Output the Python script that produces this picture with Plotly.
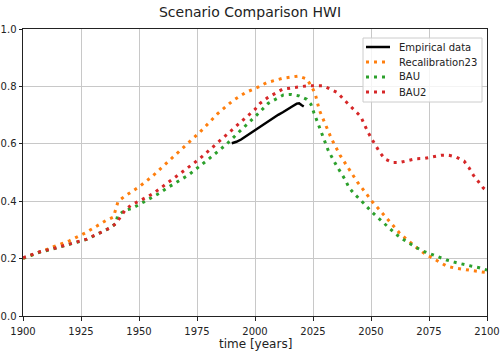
import plotly.graph_objects as go

# ---------------- data ----------------
emp_years = [1990, 1992, 1994, 1996, 1998, 2000, 2002, 2004, 2006, 2008, 2010,
             2012, 2014, 2016, 2018, 2019, 2020, 2021]
emp_vals = [0.602, 0.607, 0.615, 0.626, 0.636, 0.646, 0.656, 0.668, 0.680, 0.691,
            0.701, 0.710, 0.719, 0.730, 0.740, 0.741, 0.735, 0.730]

recal_years = [1900, 1907, 1914, 1920, 1927, 1933, 1936, 1939, 1940, 1941, 1944, 1950,
               1955.5, 1960.8, 1968.7, 1976.3, 1983.8, 1990.4, 1996, 2001.5, 2005,
               2011.8, 2018.7, 2022.3, 2024.4, 2025.9, 2027.7, 2030.2, 2033, 2036.6,
               2040.2, 2042.1, 2044.1, 2046.3, 2048.4, 2050.6, 2052.9, 2055.3, 2057.5,
               2060, 2062.2, 2065, 2067.6, 2070.4, 2073.3, 2076.2, 2079.5, 2082.6,
               2086.2, 2089.8, 2093.4, 2096.7, 2100]
recal_vals = [0.201, 0.222, 0.244, 0.262, 0.290, 0.319, 0.334, 0.345, 0.370, 0.400,
              0.418, 0.450, 0.485, 0.524, 0.582, 0.641, 0.704, 0.750, 0.779, 0.798,
              0.813, 0.828, 0.836, 0.826, 0.799, 0.776, 0.718, 0.671, 0.617, 0.561,
              0.516, 0.490, 0.467, 0.444, 0.420, 0.398, 0.377, 0.354, 0.334, 0.311,
              0.290, 0.270, 0.251, 0.233, 0.216, 0.203, 0.187, 0.174, 0.167, 0.163,
              0.160, 0.156, 0.151]

bau_years = [1900, 1907, 1914, 1921, 1927.5, 1934, 1937.5, 1940, 1940.8, 1944, 1947,
             1950, 1959.3, 1961.9, 1971.3, 1979.9, 1987.8, 1993.1, 1998.1, 2000.7,
             2005.7, 2012.2, 2015.5, 2019, 2022.3, 2024.1, 2025.4, 2026.6, 2029,
             2031.6, 2035.2, 2038.8, 2040.5, 2042.7, 2045.3, 2047.7, 2050.3, 2052.7,
             2055.3, 2057.9, 2060.6, 2063.5, 2066.5, 2069.4, 2072.5, 2075.9, 2079.3,
             2082.6, 2086.2, 2089.5, 2093.1, 2096.7, 2100]
bau_vals = [0.201, 0.222, 0.236, 0.251, 0.267, 0.293, 0.307, 0.322, 0.350, 0.369,
            0.375, 0.388, 0.430, 0.445, 0.491, 0.546, 0.599, 0.641, 0.679, 0.700,
            0.741, 0.770, 0.772, 0.767, 0.755, 0.738, 0.708, 0.681, 0.627, 0.576,
            0.523, 0.476, 0.448, 0.426, 0.406, 0.384, 0.363, 0.345, 0.325, 0.304,
            0.286, 0.269, 0.253, 0.239, 0.226, 0.215, 0.204, 0.195, 0.187, 0.180,
            0.174, 0.168, 0.160]

bau2_years = [1900, 1907, 1914, 1921, 1927.5, 1934, 1937.5, 1940.2, 1942.2, 1944,
              1946.8, 1950, 1956.2, 1959.3, 1967.7, 1976.3, 1984.2, 1992.1, 1997.5,
              2000, 2002.2, 2005.5, 2011.8, 2018.4, 2022.3, 2029.4, 2032.3, 2035.6,
              2038.1, 2040.5, 2043.1, 2045.6, 2047, 2048.6, 2050.3, 2052, 2053.9, 2056,
              2059.2, 2062.5, 2066.1, 2069.4, 2073, 2076.4, 2080.2, 2083.6, 2086.9,
              2090.1, 2092.2, 2094.1, 2096.3, 2098.4, 2100]
bau2_vals = [0.203, 0.223, 0.237, 0.252, 0.268, 0.293, 0.307, 0.323, 0.345, 0.369,
             0.388, 0.400, 0.427, 0.445, 0.496, 0.549, 0.607, 0.662, 0.703, 0.720,
             0.741, 0.761, 0.790, 0.799, 0.802, 0.802, 0.791, 0.778, 0.756, 0.735,
             0.715, 0.695, 0.669, 0.642, 0.617, 0.593, 0.569, 0.547, 0.535, 0.535,
             0.541, 0.548, 0.549, 0.553, 0.560, 0.560, 0.553, 0.540, 0.517, 0.491,
             0.469, 0.446, 0.435]

series_names = ["Empirical data", "Recalibration23", "BAU", "BAU2"]
series_colors = ["black", "#ff7f0e", "#2ca02c", "#d62728"]

x_ticks = [1900, 1925, 1950, 1975, 2000, 2025, 2050, 2075, 2100]
y_ticks = [0.0, 0.2, 0.4, 0.6, 0.8, 1.0]

# ---------------- figure ----------------
FONT = "DejaVu Sans"
DOT = "3px,5px"
W, H = 500, 351
ML, MR, MT, MB = 23, 13, 29, 35
PW, PH = W - ML - MR, H - MT - MB


def px_x(p):
    return (p - ML) / PW


def px_y(p):
    return (H - MB - p) / PH


fig = go.Figure()
all_x = [emp_years, recal_years, bau_years, bau2_years]
all_y = [emp_vals, recal_vals, bau_vals, bau2_vals]
for i, (xs, ys) in enumerate(zip(all_x, all_y)):
    if i == 0:
        line = dict(color=series_colors[i], width=2.5)
    else:
        line = dict(color=series_colors[i], width=3, dash=DOT)
    fig.add_trace(go.Scatter(x=xs, y=ys, mode="lines", name=series_names[i],
                             line=line, showlegend=False))

axis_common = dict(showline=True, linecolor="#222", linewidth=1, mirror=True,
                   ticks="outside", ticklen=3.5, tickwidth=1, tickcolor="#222",
                   showgrid=True, gridcolor="#c8c8c8", gridwidth=1, zeroline=False,
                   automargin=False,
                   tickfont=dict(family=FONT, size=10, color="#222"))

# manual legend (matplotlib style)
shapes = [dict(type="rect", xref="paper", yref="paper", layer="above",
               x0=px_x(363), x1=px_x(482), y0=px_y(102), y1=px_y(38),
               fillcolor="rgba(255,255,255,0.8)", line=dict(color="#cccccc", width=1))]
annotations = []
for i, name in enumerate(series_names):
    yy = px_y(47 + 15 * i)
    ln = dict(color=series_colors[i], width=2.5 if i == 0 else 3)
    if i > 0:
        ln["dash"] = DOT
    shapes.append(dict(type="line", xref="paper", yref="paper", layer="above",
                       x0=px_x(366), x1=px_x(390), y0=yy, y1=yy, line=ln))
    annotations.append(dict(text=name, xref="paper", yref="paper", x=px_x(397), y=yy,
                            xanchor="left", yanchor="middle", showarrow=False,
                            font=dict(family=FONT, size=10, color="#222")))

annotations.append(dict(text="time [years]", xref="paper", yref="paper", x=0.5,
                        y=px_y(343.5), xanchor="center", yanchor="middle",
                        showarrow=False, font=dict(family=FONT, size=12, color="#222")))

fig.update_layout(
    width=W, height=H,
    margin=dict(l=ML, r=MR, t=MT, b=MB, autoexpand=False),
    paper_bgcolor="white", plot_bgcolor="white",
    font=dict(family=FONT, size=10, color="#222"),
    title=dict(text="Scenario Comparison HWI", x=0.5, xref="container",
               y=1 - 12 / H, yref="container", yanchor="middle", xanchor="center",
               font=dict(family=FONT, size=14, color="#222")),
    xaxis=dict(range=[1900, 2100], tickvals=x_ticks, ticklabelstandoff=2, **axis_common),
    yaxis=dict(range=[0, 1], tickvals=y_ticks, tickformat=".1f", **axis_common),
    shapes=shapes,
    annotations=annotations,
    showlegend=False,
)

fig.write_html("out.html")
